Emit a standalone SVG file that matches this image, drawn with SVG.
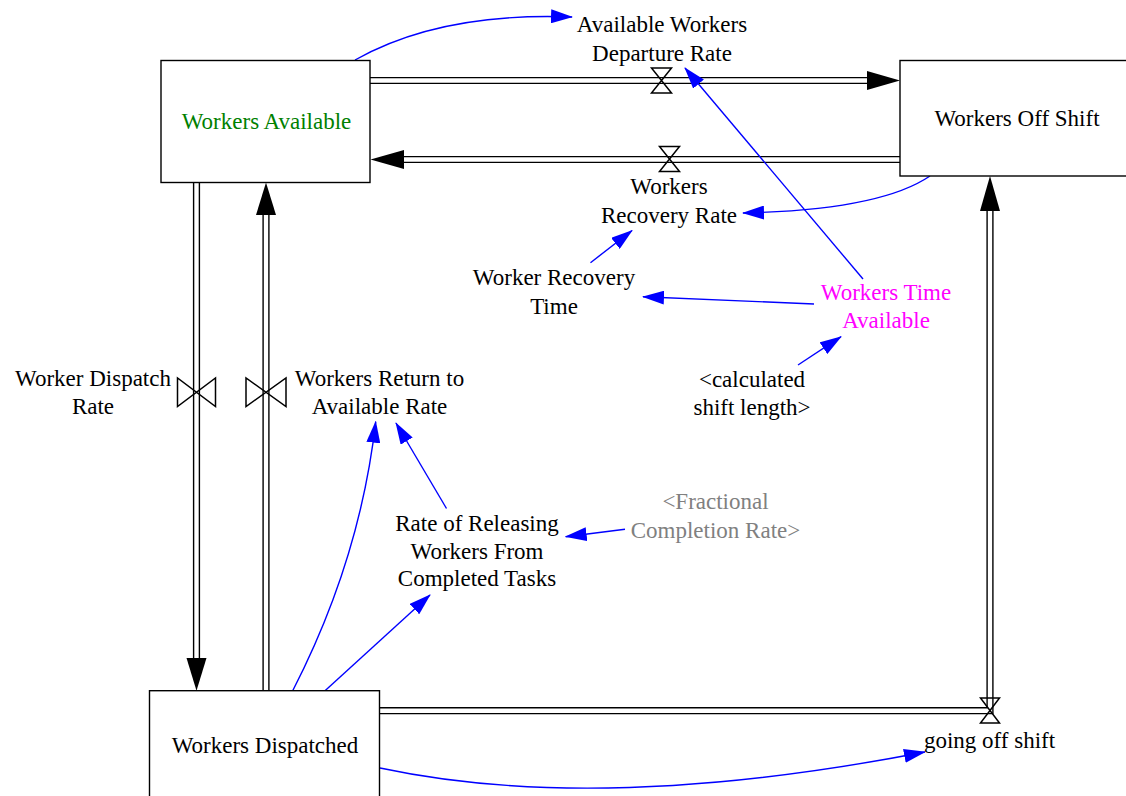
<svg xmlns="http://www.w3.org/2000/svg" width="1126" height="796" viewBox="0 0 1126 796" font-family="'Liberation Serif', 'DejaVu Serif', serif">
<defs>
<style>
text{font-family:'Liberation Serif','DejaVu Serif',serif;font-size:23px;fill:#000;text-anchor:middle}
.stock{fill:#fff;stroke:#000;stroke-width:1.4}
.po{fill:none;stroke:#000;stroke-width:7.2}
.pi{fill:none;stroke:#fff;stroke-width:4.4}
.ah{fill:#000;stroke:none}
.valve{fill:none;stroke:#000;stroke-width:1.5}
.link{fill:none;stroke:#0000ff;stroke-width:1.4;marker-end:url(#ba)}
.green{fill:#008000}
.mag{fill:#ff00ff}
.gray{fill:#808080}
</style>
<marker id="ba" markerUnits="userSpaceOnUse" viewBox="0 0 22 14" markerWidth="22" markerHeight="14" refX="21" refY="7" orient="auto">
<path d="M0,0 L22,7 L0,14 Z" fill="#0000ff"/>
</marker>
</defs>
<rect x="0" y="0" width="1126" height="796" fill="#fff"/>

<g id="connectors">
<path class="po" d="M370,80.5 H870"/><path class="pi" d="M370,80.5 H870"/>
<path class="po" d="M900,159.5 H402"/><path class="pi" d="M900,159.5 H402"/>
<path class="po" d="M196.5,182.5 V660"/><path class="pi" d="M196.5,182.5 V660"/>
<path class="po" d="M266,690.7 V213"/><path class="pi" d="M266,690.7 V213"/>
<path class="po" d="M379.5,710.7 H990 V209"/><path class="pi" d="M379.5,710.7 H990 V209"/>
<polygon class="ah" points="900,80.5 867,71 867,90"/>
<polygon class="ah" points="370.5,159.5 404,150 404,169"/>
<polygon class="ah" points="196.5,690.7 186.5,658 206.5,658"/>
<polygon class="ah" points="266,182.5 256,215 276,215"/>
<polygon class="ah" points="990,176 980,211 1000,211"/>
<path class="link" d="M355,60 Q440,12 572,17"/>
<path class="link" d="M930,176 Q880,210 743,213"/>
<path class="link" d="M590.5,262.7 L632,230.5"/>
<path class="link" d="M863,279 L685,68"/>
<path class="link" d="M814,304 L643,296.7"/>
<path class="link" d="M798,365 L841,336.7"/>
<path class="link" d="M446.5,508.5 L396,423"/>
<path class="link" d="M292.7,690.7 Q360,560 375.7,421.7"/>
<path class="link" d="M325,690.7 L430,595"/>
<path class="link" d="M625,529.3 L565.7,536.7"/>
<path class="link" d="M380,768 Q600,815 925,752"/>
</g>

<g id="workers-available">
<rect class="stock" x="161" y="60.5" width="209" height="122"/>
<text class="green" x="266.5" y="129">Workers Available</text>
</g>
<g id="workers-off-shift">
<rect class="stock" x="900" y="60.5" width="240" height="115.5"/>
<text x="1017" y="126">Workers Off Shift</text>
</g>
<g id="workers-dispatched">
<rect class="stock" x="149.5" y="690.7" width="230" height="120"/>
<text x="265" y="753.3">Workers Dispatched</text>
</g>

<g id="available-workers-departure-rate">
<path class="valve" d="M651.5,68 H671.5 L651.5,93 H671.5 Z"/>
<text x="662" y="31.5">Available Workers</text>
<text x="662" y="60.5">Departure Rate</text>
</g>
<g id="workers-recovery-rate">
<path class="valve" d="M659.5,146.5 H679.5 L659.5,171.5 H679.5 Z"/>
<text x="669" y="193.5">Workers</text>
<text x="669" y="222.7">Recovery Rate</text>
</g>
<g id="worker-dispatch-rate">
<path class="valve" d="M177.5,378 V406.5 L215.5,378 V406.5 Z"/>
<text x="93" y="386">Worker Dispatch</text>
<text x="93" y="414">Rate</text>
</g>
<g id="workers-return-rate">
<path class="valve" d="M246,378 V406.5 L286,378 V406.5 Z"/>
<text x="379.5" y="386">Workers Return to</text>
<text x="379.5" y="414">Available Rate</text>
</g>
<g id="going-off-shift">
<path class="valve" d="M980.5,698 H999.5 L980.5,723 H999.5 Z"/>
<text x="989.5" y="748.3">going off shift</text>
</g>

<g id="worker-recovery-time">
<text x="554" y="285">Worker Recovery</text>
<text x="554" y="314">Time</text>
</g>
<g id="workers-time-available">
<text class="mag" x="886" y="300">Workers Time</text>
<text class="mag" x="886" y="328.3">Available</text>
</g>
<g id="calculated-shift-length">
<text x="752" y="386.7">&lt;calculated</text>
<text x="752" y="415">shift length&gt;</text>
</g>
<g id="rate-of-releasing">
<text x="477" y="531">Rate of Releasing</text>
<text x="477" y="558.5">Workers From</text>
<text x="477" y="586">Completed Tasks</text>
</g>
<g id="fractional-completion-rate">
<text class="gray" x="715.5" y="509.3">&lt;Fractional</text>
<text class="gray" x="715.5" y="538.3">Completion Rate&gt;</text>
</g>
</svg>
